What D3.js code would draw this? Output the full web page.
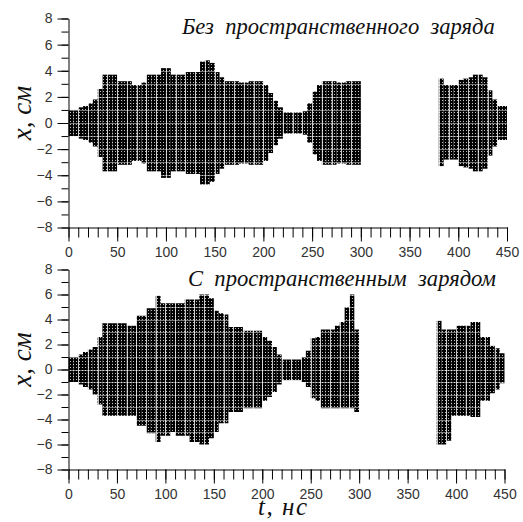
<!DOCTYPE html>
<html>
<head>
<meta charset="utf-8">
<script src="https://cdn.jsdelivr.net/npm/d3@7"></script>
<style>
  body { margin: 0; background: #fff; }
  .tick text { font-family: "Liberation Sans", Arial, sans-serif; font-size: 14px; fill: #333; }
  .ttl { font-family: "Liberation Serif", "Times New Roman", serif; font-style: italic; fill: #111; white-space: pre; }
</style>
</head>
<body>
<div id="chart"></div>
<script>
// time bins, 5 ns each (bin start)
const binStart = d3.range(0, 450, 5);
const binWidth = 5;

// top panel: without space charge (null = no particles)
const topUpper = [
  1.0, 1.0, 1.2, 1.3, 1.5, 1.8, 2.6, 3.7, 3.7, 3.7,
  3.2, 3.2, 3.2, 2.9, 2.9, 3.1, 3.7, 3.7, 3.7, 4.2,
  4.2, 3.7, 3.7, 3.7, 3.9, 3.9, 3.9, 4.7, 4.8, 4.6,
  3.9, 3.5, 3.2, 3.2, 3.2, 3.1, 3.1, 3.2, 3.2, 3.2,
  2.9, 2.3, 1.7, 1.2, 0.8, 0.8, 0.8, 0.8, 0.9, 1.5,
  2.4, 2.9, 3.2, 3.2, 3.2, 3.1, 3.1, 3.2, 3.2, 3.2,
  null, null, null, null, null, null, null, null, null, null,
  null, null, null, null, null, null, 3.4, 2.9, 2.9, 2.9,
  3.3, 3.4, 3.5, 3.7, 3.7, 3.5, 2.5, 1.8, 1.3, 1.3
];
const topLower = [
  -1.0, -1.0, -1.2, -1.3, -1.5, -1.8, -2.6, -3.7, -3.7, -3.7,
  -3.2, -3.2, -3.2, -2.9, -2.9, -3.1, -3.7, -3.7, -3.7, -4.2,
  -4.2, -3.7, -3.7, -3.7, -3.9, -3.9, -3.9, -4.7, -4.7, -4.5,
  -3.9, -3.5, -3.2, -3.2, -3.2, -3.1, -3.1, -3.2, -3.2, -3.2,
  -2.9, -2.3, -1.7, -1.2, -0.8, -0.8, -0.8, -0.8, -0.9, -1.5,
  -2.4, -2.9, -3.2, -3.2, -3.2, -3.1, -3.1, -3.2, -3.2, -3.2,
  null, null, null, null, null, null, null, null, null, null,
  null, null, null, null, null, null, -3.3, -2.8, -2.8, -2.8,
  -3.3, -3.4, -3.5, -3.7, -3.7, -3.5, -2.5, -1.8, -1.3, -1.3
];

// bottom panel: with space charge
const botUpper = [
  1.0, 1.0, 1.2, 1.4, 1.6, 1.8, 2.6, 3.7, 3.7, 3.7,
  3.7, 3.7, 3.5, 3.5, 4.3, 4.3, 4.9, 4.9, 5.9, 5.3,
  5.3, 5.3, 5.3, 5.3, 5.6, 5.6, 5.6, 6.0, 6.0, 5.7,
  4.7, 4.5, 4.4, 3.4, 3.4, 3.4, 3.1, 3.1, 3.1, 3.1,
  2.6, 2.3, 1.8, 1.2, 0.8, 0.8, 0.8, 0.8, 1.0, 1.5,
  2.5, 2.6, 3.2, 3.2, 3.2, 3.5, 3.8, 5.0, 6.0, 3.2,
  null, null, null, null, null, null, null, null, null, null,
  null, null, null, null, null, null, 3.9, 3.2, 3.2, 3.2,
  3.5, 3.5, 3.5, 3.8, 3.8, 2.6, 2.6, 1.9, 1.7, 1.3
];
const botLower = [
  -1.0, -1.0, -1.2, -1.4, -1.6, -2.0, -2.8, -3.7, -3.7, -3.7,
  -3.7, -3.7, -3.7, -3.7, -4.5, -4.5, -5.1, -5.1, -5.8, -5.3,
  -5.3, -5.0, -5.3, -5.3, -5.3, -5.8, -5.8, -6.0, -6.0, -5.5,
  -5.0, -4.3, -4.3, -3.4, -3.4, -3.4, -3.1, -3.1, -3.1, -3.1,
  -2.5, -2.2, -1.8, -1.2, -0.85, -0.85, -0.85, -0.85, -1.0, -1.4,
  -2.3, -2.5, -3.1, -3.1, -3.1, -3.1, -3.1, -3.1, -3.1, -3.4,
  null, null, null, null, null, null, null, null, null, null,
  null, null, null, null, null, null, -6.0, -6.0, -5.7, -3.7,
  -3.7, -3.7, -3.7, -3.8, -3.8, -2.5, -2.5, -1.9, -1.6, -1.1
];

const xTicks = d3.range(0, 451, 50);
const xMinor = d3.range(0, 451, 10);
const yTicks = d3.range(-8, 9, 2);
const yMinor = d3.range(-8, 9, 1);

const titles = ["Без  пространственного  заряда", "С  пространственным  зарядом"];

const width = 523, height = 522;

const svg = d3.select("#chart").append("svg")
    .attr("width", width)
    .attr("height", height);

// dotted texture of the particle cloud
const defs = svg.append("defs");
const pat = defs.append("pattern")
    .attr("id", "dots")
    .attr("patternUnits", "userSpaceOnUse")
    .attr("width", 3)
    .attr("height", 3);
pat.append("rect").attr("width", 3).attr("height", 3).attr("fill", "#000");
pat.append("rect").attr("x", 1).attr("y", 1).attr("width", 1).attr("height", 1)
    .attr("fill", "#fff").attr("opacity", 0.75);

function drawPanel(box, upper, lower, title, titleX, titleY) {
    const x = d3.scaleLinear().domain([0, 450]).range([box.x0, box.x1]);
    const y = d3.scaleLinear().domain([-8, 8]).range([box.y1, box.y0]);
    const g = svg.append("g");

    const bins = binStart.map((t, i) => ({t: t, hi: upper[i], lo: lower[i]}))
        .filter(d => d.hi !== null);

    g.selectAll(".bin")
        .data(bins)
        .enter().append("rect")
        .attr("class", "bin")
        .attr("x", d => x(d.t))
        .attr("width", d => x(d.t + binWidth) - x(d.t))
        .attr("y", d => y(d.hi))
        .attr("height", d => y(d.lo) - y(d.hi))
        .attr("fill", "url(#dots)");

    // light column seams every 10 ns
    g.selectAll(".seam")
        .data(d3.range(10, 450, 10))
        .enter().append("line")
        .attr("x1", d => Math.round(x(d)) + 0.5)
        .attr("x2", d => Math.round(x(d)) + 0.5)
        .attr("y1", box.y0)
        .attr("y2", box.y1)
        .attr("stroke", "#fff")
        .attr("stroke-opacity", 0.75);

    // horizontal light lines
    g.selectAll(".hseam")
        .data(d3.range(-7, 8, 1))
        .enter().append("line")
        .attr("x1", box.x0)
        .attr("x2", box.x1)
        .attr("y1", d => Math.round(y(d)) + 0.5)
        .attr("y2", d => Math.round(y(d)) + 0.5)
        .attr("stroke", "#fff")
        .attr("stroke-opacity", 0.45);

    // axes
    g.append("g")
        .attr("transform", `translate(0,${box.y1})`)
        .call(d3.axisBottom(x).tickValues(xMinor).tickSize(10).tickFormat(""))
        .call(a => a.select(".domain").remove());
    g.append("g")
        .attr("transform", `translate(0,${box.y1})`)
        .call(d3.axisBottom(x).tickValues(xTicks).tickSize(14).tickSizeOuter(0).tickPadding(6));
    g.append("g")
        .attr("transform", `translate(${box.x0},0)`)
        .call(d3.axisLeft(y).tickValues(yMinor).tickSize(7).tickFormat(""))
        .call(a => a.select(".domain").remove());
    g.append("g")
        .attr("transform", `translate(${box.x0},0)`)
        .call(d3.axisLeft(y).tickValues(yTicks).tickSize(11).tickSizeOuter(0).tickPadding(5));

    g.selectAll(".domain, .tick line").attr("stroke", "#000").attr("stroke-width", 1);

    g.append("text")
        .attr("class", "ttl")
        .attr("x", titleX)
        .attr("y", titleY)
        .attr("font-size", 22.6)
        .text(title);

    g.append("text")
        .attr("class", "ttl")
        .attr("transform", `translate(31,${(box.y0 + box.y1) / 2 - 10}) rotate(-90)`)
        .attr("text-anchor", "middle")
        .attr("font-size", 27)
        .attr("fill", "#0d1a3a")
        .text("x, см");
}

drawPanel({x0: 68.5, x1: 507, y0: 18.5, y1: 227.5}, topUpper, topLower, titles[0], 182, 34);
drawPanel({x0: 68.5, x1: 504.5, y0: 269.5, y1: 469.5}, botUpper, botLower, titles[1], 188, 286);

svg.append("text")
    .attr("class", "ttl")
    .attr("x", 258)
    .attr("y", 515)
    .attr("font-size", 25)
    .attr("textLength", 49)
    .attr("lengthAdjust", "spacing")
    .text("t, нс");
</script>
</body>
</html>
